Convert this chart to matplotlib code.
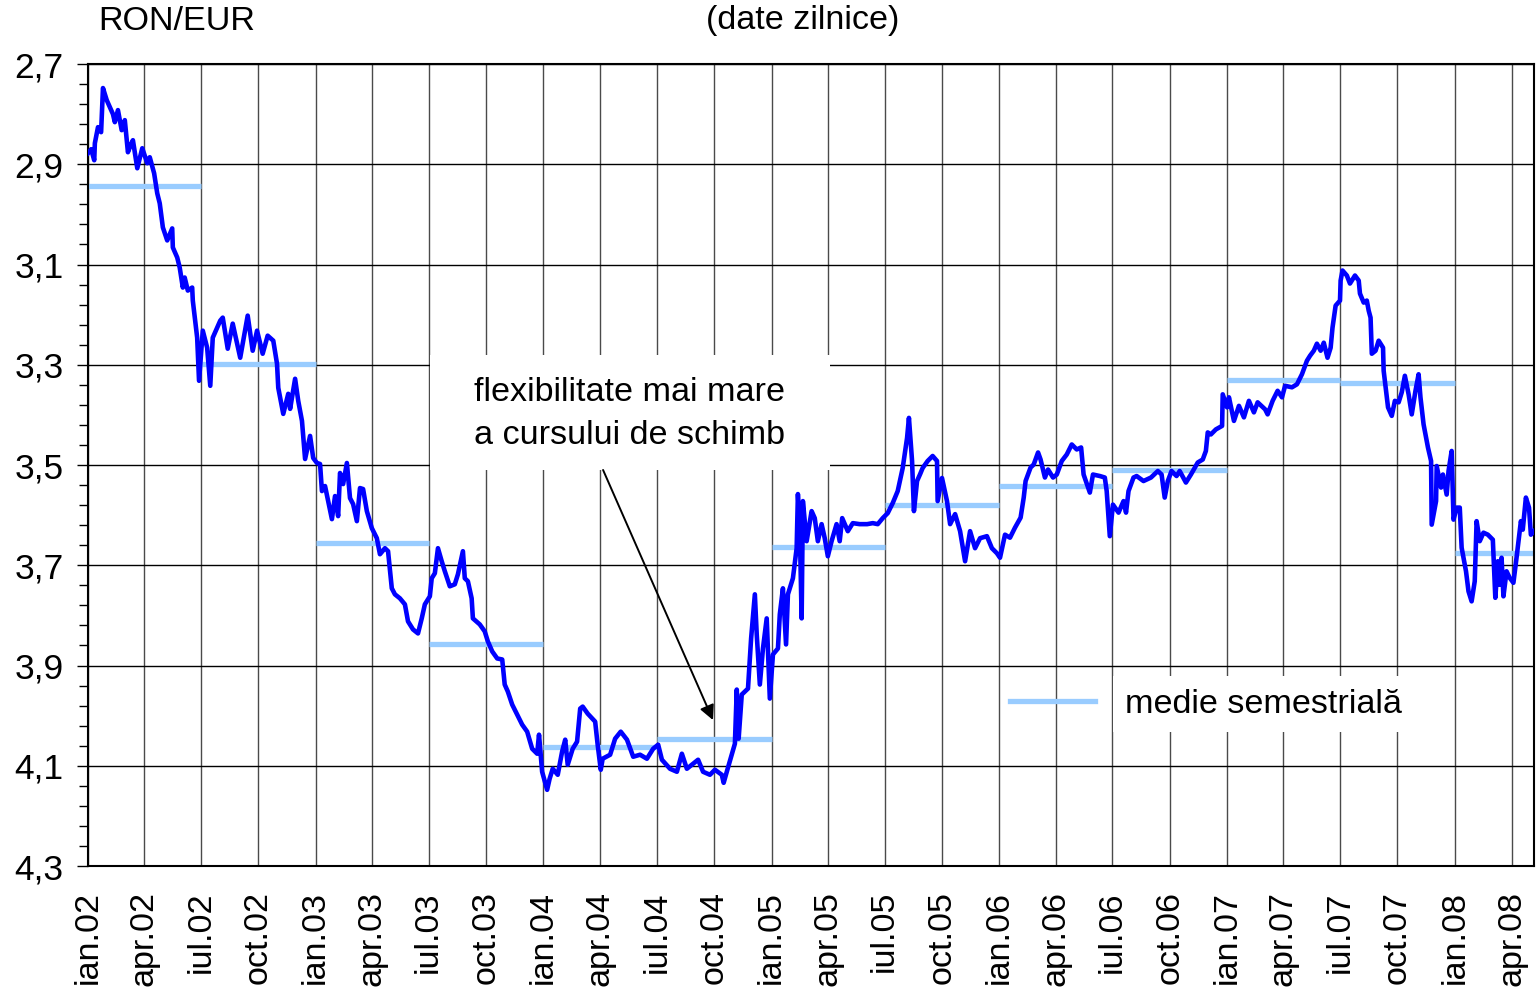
import numpy as np
import pandas as pd
import matplotlib
matplotlib.use("Agg")
import matplotlib.pyplot as plt
from matplotlib.lines import Line2D
from matplotlib.patches import Rectangle
from matplotlib.ticker import FixedLocator, FuncFormatter

plt.rcParams["font.family"] = ["Liberation Sans", "DejaVu Sans"]

START = pd.Timestamp("2002-01-01")
BLUE = "#0000FF"
LIGHT = "#99CCFF"
FS = 24.6

# RON/EUR daily rate (day = days since 2002-01-01)
day_2002 = [0, 5, 10, 11, 16, 21, 24, 27, 30, 35, 40, 43, 48, 54, 59, 64, 69, 72, 79, 87,
            95, 99, 106, 111, 115, 120, 127, 135, 136, 143, 147, 152, 155, 160, 167, 168,
            175, 178, 184, 191, 196, 200, 212, 216, 224, 232, 244, 256, 264, 271, 280, 288,
            297, 303, 305, 313, 321, 324, 332, 337, 343, 348, 356, 361]
rate_2002 = [2.878, 2.870, 2.892, 2.858, 2.826, 2.836, 2.748, 2.760, 2.772, 2.786, 2.800, 2.816,
             2.792, 2.832, 2.812, 2.876, 2.860, 2.852, 2.908, 2.868, 2.898, 2.886, 2.918, 2.958,
             2.978, 3.026, 3.052, 3.028, 3.066, 3.086, 3.106, 3.146, 3.126, 3.152, 3.146, 3.172,
             3.246, 3.332, 3.232, 3.266, 3.342, 3.246, 3.212, 3.206, 3.268, 3.218, 3.286, 3.202,
             3.272, 3.232, 3.278, 3.242, 3.252, 3.298, 3.346, 3.398, 3.358, 3.388, 3.328, 3.372,
             3.412, 3.488, 3.442, 3.486]

day_2003 = [367, 372, 375, 380, 385, 391, 396, 401, 404, 409, 415, 420, 425, 431, 436, 441, 447,
            455, 463, 468, 476, 481, 487, 492, 500, 508, 513, 521, 529, 535, 540, 548, 551, 556,
            561, 567, 572, 580, 588, 593, 601, 604, 609, 615, 617, 628, 636, 641, 648, 656, 664,
            668, 673, 680, 688, 696, 704, 712, 720, 723, 728]
rate_2003 = [3.496, 3.498, 3.552, 3.542, 3.572, 3.608, 3.562, 3.602, 3.516, 3.538, 3.496, 3.566,
             3.578, 3.612, 3.546, 3.548, 3.592, 3.626, 3.646, 3.678, 3.666, 3.672, 3.746, 3.758,
             3.766, 3.778, 3.812, 3.828, 3.836, 3.806, 3.778, 3.762, 3.726, 3.716, 3.666, 3.692,
             3.712, 3.742, 3.738, 3.718, 3.672, 3.726, 3.732, 3.766, 3.806, 3.818, 3.832, 3.852,
             3.872, 3.886, 3.888, 3.938, 3.952, 3.978, 3.998, 4.018, 4.032, 4.066, 4.076, 4.038,
             4.112]

day_2004 = [736, 740, 745, 753, 760, 765, 769, 777, 784, 789, 793, 801, 813, 817, 822, 825, 837,
            845, 854, 864, 874, 885, 896, 906, 914, 920, 933, 944, 952, 960, 968, 978, 986, 997,
            1005, 1016, 1019, 1024, 1032, 1037, 1040, 1043, 1048, 1053, 1058, 1063, 1069, 1072,
            1077, 1082, 1088, 1093]
rate_2004 = [4.148, 4.126, 4.106, 4.118, 4.072, 4.048, 4.098, 4.066, 4.052, 3.986, 3.982, 3.996,
             4.012, 4.058, 4.108, 4.086, 4.078, 4.046, 4.032, 4.048, 4.082, 4.078, 4.086, 4.066,
             4.058, 4.088, 4.106, 4.112, 4.076, 4.106, 4.098, 4.088, 4.112, 4.118, 4.108, 4.118,
             4.134, 4.112, 4.078, 4.056, 3.948, 4.046, 3.958, 3.952, 3.946, 3.846, 3.758, 3.838,
             3.938, 3.866, 3.806, 3.966]

day_2005 = [1098, 1106, 1109, 1114, 1119, 1122, 1130, 1136, 1138, 1141, 1144, 1146, 1152, 1160,
            1165, 1170, 1176, 1181, 1186, 1192, 1200, 1205, 1209, 1218, 1226, 1237, 1249, 1258,
            1266, 1274, 1282, 1290, 1298, 1306, 1313, 1316, 1321, 1324, 1329, 1334, 1338, 1346,
            1354, 1361, 1362, 1369, 1377, 1382, 1390, 1398, 1406, 1414, 1422, 1430, 1441, 1449,
            1457]
rate_2005 = [3.878, 3.866, 3.798, 3.746, 3.858, 3.758, 3.726, 3.666, 3.558, 3.626, 3.806, 3.572,
             3.652, 3.592, 3.606, 3.652, 3.618, 3.646, 3.682, 3.652, 3.618, 3.652, 3.606, 3.632,
             3.616, 3.618, 3.618, 3.616, 3.618, 3.606, 3.596, 3.576, 3.552, 3.506, 3.446, 3.406,
             3.492, 3.592, 3.532, 3.518, 3.506, 3.492, 3.482, 3.492, 3.572, 3.526, 3.572, 3.618,
             3.598, 3.632, 3.692, 3.632, 3.666, 3.646, 3.642, 3.666, 3.676]

day_2006 = [1462, 1470, 1478, 1486, 1495, 1500, 1503, 1511, 1516, 1523, 1527, 1534, 1539, 1547,
            1553, 1561, 1569, 1577, 1585, 1592, 1596, 1606, 1611, 1622, 1630, 1633, 1638, 1643,
            1652, 1660, 1664, 1668, 1676, 1681, 1692, 1704, 1715, 1721, 1726, 1731, 1737, 1745,
            1750, 1760, 1768, 1779, 1787, 1792, 1795, 1800, 1808, 1818, 1819]
rate_2006 = [3.685, 3.639, 3.645, 3.625, 3.605, 3.565, 3.532, 3.505, 3.499, 3.475, 3.489, 3.525,
             3.509, 3.525, 3.519, 3.492, 3.479, 3.459, 3.469, 3.465, 3.519, 3.555, 3.519, 3.522,
             3.525, 3.552, 3.642, 3.579, 3.595, 3.572, 3.595, 3.552, 3.525, 3.522, 3.532, 3.525,
             3.512, 3.519, 3.565, 3.532, 3.512, 3.522, 3.512, 3.535, 3.519, 3.495, 3.489, 3.472,
             3.435, 3.439, 3.429, 3.422, 3.359]

day_2007 = [1826, 1829, 1837, 1845, 1853, 1861, 1869, 1875, 1887, 1891, 1899, 1907, 1914, 1919,
            1930, 1938, 1946, 1954, 1959, 1965, 1970, 1976, 1981, 1987, 1992, 1995, 2000, 2007,
            2008, 2011, 2018, 2023, 2031, 2037, 2039, 2045, 2050, 2053, 2056, 2058, 2064, 2069,
            2076, 2077, 2084, 2090, 2095, 2101, 2106, 2111, 2117, 2122, 2128, 2133, 2136, 2141,
            2148, 2153, 2154, 2161, 2162, 2169, 2172, 2178, 2181, 2186, 2189]
rate_2007 = [3.385, 3.365, 3.412, 3.382, 3.405, 3.372, 3.395, 3.375, 3.389, 3.399, 3.372, 3.352,
             3.365, 3.342, 3.345, 3.339, 3.319, 3.292, 3.282, 3.272, 3.258, 3.272, 3.256, 3.286,
             3.266, 3.226, 3.182, 3.172, 3.132, 3.112, 3.122, 3.138, 3.122, 3.132, 3.158, 3.176,
             3.172, 3.192, 3.206, 3.278, 3.272, 3.252, 3.266, 3.312, 3.385, 3.402, 3.372, 3.375,
             3.355, 3.322, 3.359, 3.399, 3.352, 3.319, 3.365, 3.419, 3.465, 3.492, 3.619, 3.572,
             3.502, 3.545, 3.519, 3.559, 3.512, 3.472, 3.609]

day_2008 = [2194, 2199, 2202, 2209, 2213, 2218, 2223, 2226, 2231, 2237, 2244, 2252, 2256, 2260,
            2263, 2266, 2269, 2274, 2279, 2285, 2290, 2297, 2300, 2305, 2310, 2313, 2318]
rate_2008 = [3.585, 3.585, 3.665, 3.712, 3.752, 3.772, 3.732, 3.612, 3.652, 3.635, 3.639, 3.649,
             3.765, 3.692, 3.739, 3.685, 3.762, 3.712, 3.725, 3.735, 3.685, 3.612, 3.629, 3.565,
             3.585, 3.639, 3.632]

# semester averages
sem_start = ["2002-01-01", "2002-07-01", "2003-01-01", "2003-07-01", "2004-01-01", "2004-07-01",
             "2005-01-01", "2005-07-01", "2006-01-01", "2006-07-01", "2007-01-01", "2007-07-01",
             "2008-01-01"]
sem_end = ["2002-07-01", "2003-01-01", "2003-07-01", "2004-01-01", "2004-07-01", "2005-01-01",
           "2005-07-01", "2006-01-01", "2006-07-01", "2007-01-01", "2007-07-01", "2008-01-01",
           "2008-07-01"]
sem_mean = [2.944, 3.298, 3.655, 3.857, 4.062, 4.046, 3.664, 3.580, 3.541, 3.510, 3.330, 3.336,
            3.676]

MONTHS = {1: "ian", 4: "apr", 7: "iul", 10: "oct"}
quarters = pd.date_range("2002-01-01", "2008-04-01", freq="QS")
q_labels = [f"{MONTHS[d.month]}.{d.year % 100:02d}" for d in quarters]
y_ticks = [2.7, 2.9, 3.1, 3.3, 3.5, 3.7, 3.9, 4.1, 4.3]

days = day_2002 + day_2003 + day_2004 + day_2005 + day_2006 + day_2007 + day_2008
rate = rate_2002 + rate_2003 + rate_2004 + rate_2005 + rate_2006 + rate_2007 + rate_2008
dates = START + pd.to_timedelta(days, unit="D")

W, H = 1538, 997
fig = plt.figure(figsize=(W / 100, H / 100), dpi=100)
ax = fig.add_axes([88 / W, 1 - 866 / H, (1534 - 88) / W, (866 - 64) / H])

ax.hlines(sem_mean, pd.to_datetime(sem_start), pd.to_datetime(sem_end), colors=LIGHT, lw=3.8, zorder=2)
ax.plot(dates, rate, color=BLUE, lw=3.3, zorder=3, solid_joinstyle="round")

ax.set_xlim(START, pd.Timestamp("2008-05-07"))
ax.set_ylim(4.3, 2.7)
ax.set_xticks(quarters)
ax.set_xticklabels(q_labels, rotation=90, fontsize=FS)
ax.tick_params(axis="x", length=0, pad=18)
ax.yaxis.set_major_locator(FixedLocator(y_ticks))
ax.yaxis.set_minor_locator(FixedLocator(np.round(np.arange(2.7, 4.3, 0.04), 2)))
ax.yaxis.set_major_formatter(FuncFormatter(lambda v, _: f"{v:.1f}".replace(".", ",")))
ax.tick_params(axis="y", which="major", length=7.7, width=1, labelsize=25.5, pad=10)
ax.tick_params(axis="y", which="minor", length=6.3, width=1)

ax.set_axisbelow(True)
ax.grid(axis="x", color="#4a4a4a", lw=1)
ax.grid(axis="y", which="major", color="black", lw=1)
for s in ax.spines.values():
    s.set_linewidth(1.5)
    s.set_color("black")

# annotation box
ax.add_patch(Rectangle((0.2365, 0.4938), 0.2766, 0.1434, transform=ax.transAxes,
                       facecolor="white", edgecolor="none", zorder=1.5))
ax.text(0.3748, 0.5636, "flexibilitate mai mare\na cursului de schimb", transform=ax.transAxes,
        ha="center", va="center", fontsize=FS, linespacing=1.5, multialignment="left", zorder=4)
ax.annotate("", xy=(0.4322, 0.182), xycoords="axes fraction", xytext=(0.3562, 0.4938),
            textcoords="axes fraction",
            arrowprops=dict(arrowstyle="-|>", color="black", lw=1.4, mutation_scale=22,
                            shrinkA=0, shrinkB=0), zorder=4)

leg = ax.legend(handles=[Line2D([], [], color=LIGHT, lw=3.8)], labels=["medie semestrială"],
                loc="center left", bbox_to_anchor=((1010 - 88) / 1446, (866 - 704) / 802),
                frameon=False, handlelength=2.5, handletextpad=0.88, borderpad=0,
                borderaxespad=0, fontsize=FS)
leg.get_texts()[0].set_bbox(dict(facecolor="white", edgecolor="none", pad=9))

fig.text(98 / W, 1 - 22 / H, "RON/EUR", ha="left", va="center", fontsize=FS)
fig.text(803 / W, 1 - 20 / H, "(date zilnice)", ha="center", va="center", fontsize=FS)

fig.savefig("out.png", dpi=100)
